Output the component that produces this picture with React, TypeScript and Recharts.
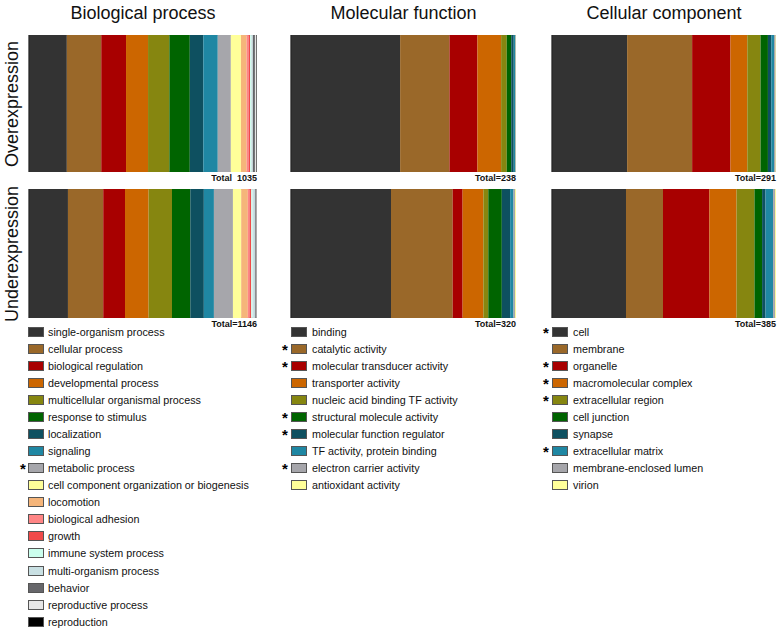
import React from 'react';
import { BarChart, Bar, XAxis, YAxis, ReferenceArea } from 'recharts';

const panelTitles = ['Biological process', 'Molecular function', 'Cellular component'];
const rowLabels = ['Overexpression', 'Underexpression'];

const bpCategories = [
  'single-organism process', 'cellular process', 'biological regulation', 'developmental process',
  'multicellular organismal process', 'response to stimulus', 'localization', 'signaling',
  'metabolic process', 'cell component organization or biogenesis', 'locomotion', 'biological adhesion',
  'growth', 'immune system process', 'multi-organism process', 'behavior', 'reproductive process', 'reproduction',
];
const bpStarred = [false, false, false, false, false, false, false, false, true, false, false, false, false, false, false, false, false, false];
const bpOver = [16.5, 15.0, 10.8, 9.6, 9.3, 8.9, 5.9, 6.3, 5.7, 4.4, 2.5, 0.8, 0.7, 0.5, 0.7, 0.9, 0.7, 0.2];
const bpUnder = [17.0, 15.4, 9.5, 10.3, 10.2, 8.0, 5.9, 4.4, 8.3, 3.6, 2.9, 0.7, 0.8, 0.5, 1.1, 0.4, 0.4, 0.1];

const mfCategories = [
  'binding', 'catalytic activity', 'molecular transducer activity', 'transporter activity',
  'nucleic acid binding TF activity', 'structural molecule activity', 'molecular function regulator',
  'TF activity, protein binding', 'electron carrier activity', 'antioxidant activity',
];
const mfStarred = [false, true, true, false, false, true, true, false, true, false];
const mfOver = [48.4, 21.9, 12.4, 10.5, 2.5, 2.0, 1.1, 0.7, 0.2, 0.1];
const mfUnder = [44.4, 27.4, 4.4, 9.2, 2.2, 6.0, 3.7, 1.5, 0.7, 0.4];

const ccCategories = [
  'cell', 'membrane', 'organelle', 'macromolecular complex', 'extracellular region', 'cell junction',
  'synapse', 'extracellular matrix', 'membrane-enclosed lumen', 'virion',
];
const ccStarred = [true, false, true, true, true, false, false, true, false, false];
const ccOver = [33.5, 29.0, 17.1, 7.5, 5.9, 3.3, 1.5, 1.2, 0.7, 0.2];
const ccUnder = [33.0, 16.5, 20.7, 12.1, 8.0, 3.4, 1.5, 3.4, 0.9, 0.4];

const totalLabels = [
  ['Total  1035', 'Total=238', 'Total=291'],
  ['Total=1146', 'Total=320', 'Total=385'],
];

const palette = [
  '#333333', '#9a6829', '#a80000', '#cc6600', '#868610', '#006400', '#0e5060', '#1f87a3',
  '#a6a6ab', '#ffff99', '#f5b57a', '#ff8585', '#f04a4a', '#ccffee', '#c9e0e3', '#66666a', '#e6e6e6', '#000000',
];

const FONT = '"Liberation Sans", Arial, sans-serif';

const panelX = [[29, 257], [291, 516], [552, 776]];
const rowY = [[35, 172], [189, 318]];

type PanelProps = { values: number[]; left: number; top: number; width: number; height: number };

function StackPanel({ values, left, top, width, height }: PanelProps) {
  const row: Record<string, number | string> = { name: 'r' };
  values.forEach((v, i) => { row[`k${i}`] = v; });
  return (
    <div style={{ position: 'absolute', left: left - 1, top, width: width + 1, height }}>
      <BarChart
        width={width + 1}
        height={height}
        data={[row]}
        layout="vertical"
        stackOffset="expand"
        barCategoryGap={0}
        margin={{ top: 0, right: 0, bottom: 0, left: 0 }}
      >
        <XAxis type="number" hide domain={[0, 1]} />
        <YAxis type="category" dataKey="name" tick={false} tickLine={false} axisLine={{ stroke: '#222', strokeWidth: 1 }} width={1} />
        {values.map((_, i) => (
          <Bar key={i} dataKey={`k${i}`} stackId="a" fill={palette[i]} isAnimationActive={false} />
        ))}
        <ReferenceArea x1={0} x2={1} fill="none" stroke="#8c8c8c" strokeWidth={1} ifOverflow="visible" />
      </BarChart>
    </div>
  );
}

type LegendProps = { cats: string[]; starred: boolean[]; swatchX: number; textX: number; starX: number; y0: number; dy: number };

function LegendList({ cats, starred, swatchX, textX, starX, y0, dy }: LegendProps) {
  return (
    <>
      {cats.map((c, i) => {
        const cy = y0 + i * dy;
        return (
          <React.Fragment key={c}>
            {starred[i] && (
              <div style={{ position: 'absolute', left: starX - 5, top: cy - 7, width: 10, textAlign: 'center', fontSize: 15, fontWeight: 'bold', fontFamily: FONT, lineHeight: '16px' }}>*</div>
            )}
            <div style={{ position: 'absolute', left: swatchX, top: cy - 5, width: 14, height: 8, background: palette[i], border: '1px solid #555' }} />
            <div style={{ position: 'absolute', left: textX, top: cy - 7, fontSize: 10.75, fontFamily: FONT, lineHeight: '14px', whiteSpace: 'nowrap', color: '#111' }}>{c}</div>
          </React.Fragment>
        );
      })}
    </>
  );
}

export default function App() {
  const data = [[bpOver, mfOver, ccOver], [bpUnder, mfUnder, ccUnder]];
  return (
    <div style={{ position: 'absolute', left: 0, top: 0, width: 778, height: 629, background: '#fff', fontFamily: FONT, overflow: 'hidden' }}>
      {panelTitles.map((t, j) => (
        <div key={t} style={{ position: 'absolute', left: (panelX[j][0] + panelX[j][1]) / 2 - 100, top: 2, width: 200, textAlign: 'center', fontSize: 18, lineHeight: '22px', color: '#111' }}>{t}</div>
      ))}
      {rowLabels.map((t, r) => {
        const cy = (rowY[r][0] + rowY[r][1]) / 2;
        return (
          <div key={t} style={{ position: 'absolute', left: 12 - 80, top: cy - 11, width: 160, textAlign: 'center', fontSize: 18, lineHeight: '22px', transform: 'rotate(-90deg)', color: '#111' }}>{t}</div>
        );
      })}
      {data.map((rowData, r) => rowData.map((vals, j) => (
        <React.Fragment key={`${r}-${j}`}>
          <StackPanel values={vals} left={panelX[j][0]} top={rowY[r][0]} width={panelX[j][1] - panelX[j][0]} height={rowY[r][1] - rowY[r][0]} />
          <div style={{ position: 'absolute', left: panelX[j][1] - 100, top: rowY[r][1] + 1, width: 100, textAlign: 'right', fontSize: 9, fontWeight: 'bold', lineHeight: '10px', whiteSpace: 'pre', color: '#111' }}>{totalLabels[r][j]}</div>
        </React.Fragment>
      )))}
      <LegendList cats={bpCategories} starred={bpStarred} swatchX={28} textX={48} starX={23} y0={331.7} dy={17.06} />
      <LegendList cats={mfCategories} starred={mfStarred} swatchX={291} textX={312} starX={285} y0={332.3} dy={17} />
      <LegendList cats={ccCategories} starred={ccStarred} swatchX={552} textX={573} starX={546} y0={332.3} dy={17} />
    </div>
  );
}
